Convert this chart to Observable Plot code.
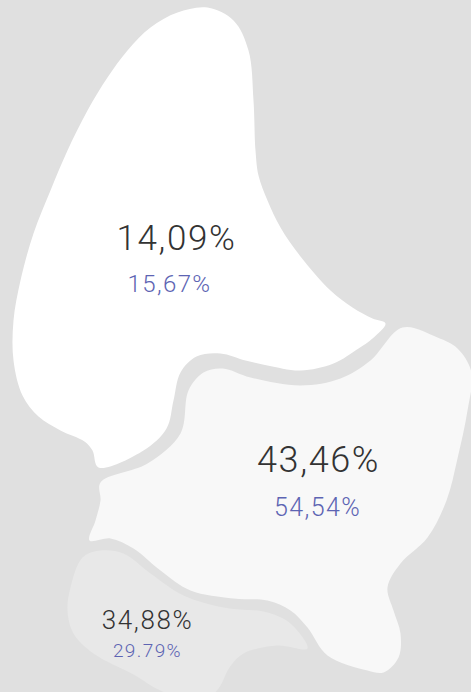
<!DOCTYPE html>
<html>
<head>
<meta charset="utf-8">
<script src="https://cdn.jsdelivr.net/npm/d3@7"></script>
<script src="https://cdn.jsdelivr.net/npm/@observablehq/plot@0.6"></script>
<style>
  html, body { margin: 0; padding: 0; background: #e0e0e0; overflow: hidden; }
  .big text { letter-spacing: 1.6px; }
  .small text { letter-spacing: 1.4px; }
</style>
</head>
<body>
<div id="chart"></div>
<script>
// Region outlines (map-like shapes, in picture units)
const outlineTop = [[207,7],[233,20],[248,50],[253,100],[255,150],[258,175],[267,200],[280,227],[300,256],[330,290],[352,307],[372,318],[385,323],
  [372,338],[358,348],[333,363],[300,370],[267,365],[245,360],[220,353],[196,356],[180,372],[173,400],[166,428],[143,450],[98,467],
  [92,450],[84,441],[60,430],[38,416],[22,395],[13,360],[13,320],[20,280],[33,233],[50,190],[67,150],[87,110],[107,77],[127,50],[150,27],[177,12]];
const outlineMiddle = [[402,327],[437,337],[457,348],[471,372],[467,410],[457,458],[446,500],[427,537],[400,563],[387,587],[393,610],[400,633],[398,657],[383,672],[367,670],[327,655],
  [307,627],[290,610],[267,600],[233,598],[190,590],[160,570],[133,548],[110,538],[89,540],
  [95,520],[100,500],[100,482],[147,463],[180,433],[188,390],[203,372],[222,368],[250,377],[300,385],[340,378],[370,360]];
const outlineBottom = [[82,557],[100,550],[123,553],[150,573],[183,595],[223,607],[267,612],[290,623],[307,648],[277,645],[243,653],[229,667],[218,688],[200,702],
  [160,690],[133,674],[93,653],[73,633],[67,610],[70,587]];

const regionIds = ["A", "B", "C"];
const regionFills = ["#ffffff", "#f8f8f8", "#e8e8e8"];
const primaryLabels = ["14,09%", "43,46%", "34,88%"];
const secondaryLabels = ["15,67%", "54,54%", "29.79%"];
// label anchors inside each region
const primaryX = [176, 318, 147];
const primaryY = [238, 460, 620];
const secondaryX = [169, 317, 147];
const secondaryY = [284, 507, 650];
const primarySize = [35, 36, 26];
const secondarySize = [24, 25, 19];

const outlines = [outlineTop, outlineMiddle, outlineBottom];
const labels = regionIds.map((id, i) => ({
  id, primary: primaryLabels[i], secondary: secondaryLabels[i],
  px: primaryX[i], py: primaryY[i], sx: secondaryX[i], sy: secondaryY[i],
  ps: primarySize[i], ss: secondarySize[i]
}));

const chart = Plot.plot({
  width: 471,
  height: 692,
  margin: 0,
  x: {domain: [0, 471], axis: null},
  y: {domain: [0, 692], reverse: true, axis: null},
  style: {background: "#e0e0e0", fontFamily: "Roboto, sans-serif"},
  marks: [
    ...outlines.map((o, i) => Plot.line(o, {
      x: d => d[0], y: d => d[1],
      curve: "catmull-rom-closed",
      fill: regionFills[i], stroke: "none", clip: true
    })),
    ...labels.map(l => Plot.text([l], {
      x: "px", y: "py", text: "primary",
      fontSize: l.ps, fontWeight: 300, fill: "#333333",
      className: "big"
    })),
    ...labels.map(l => Plot.text([l], {
      x: "sx", y: "sy", text: "secondary",
      fontSize: l.ss, fontWeight: 300, fill: "#5d64b3",
      className: "small"
    }))
  ]
});
document.getElementById("chart").appendChild(chart);
</script>
</body>
</html>
